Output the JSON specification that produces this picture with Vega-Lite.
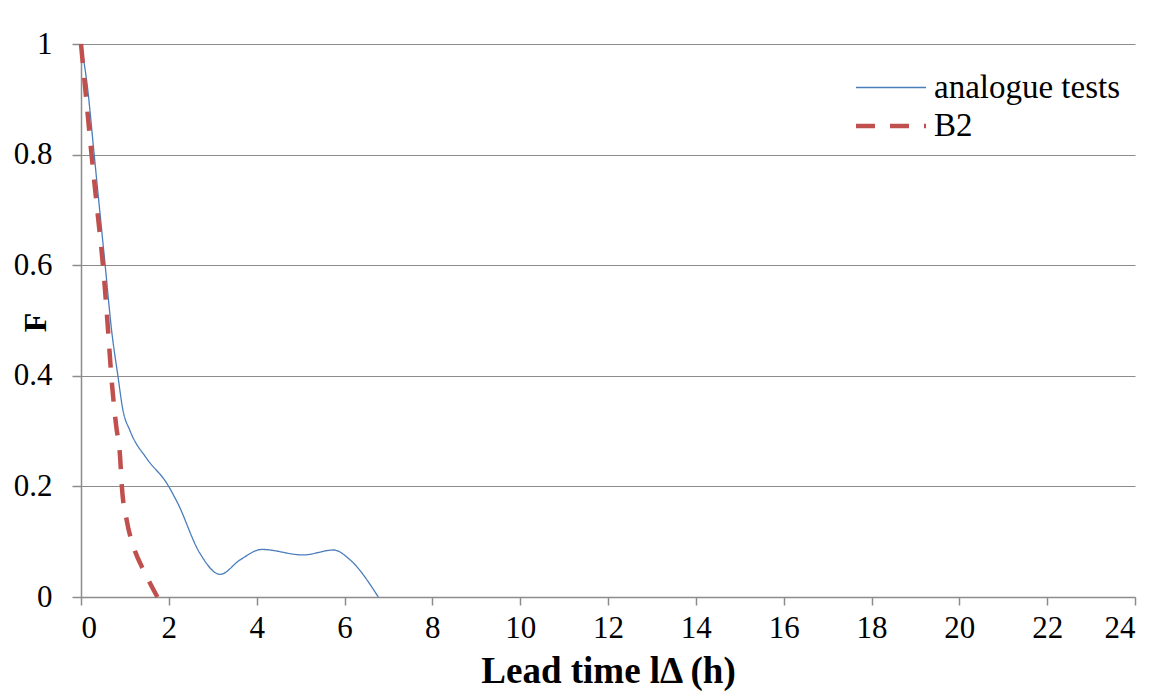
{
  "$schema": "https://vega.github.io/schema/vega-lite/v6.json",
  "width": 1054,
  "height": 553,
  "autosize": {"type": "none"},
  "padding": {"left": 81, "top": 44, "right": 29, "bottom": 100},
  "background": "white",
  "data": {
    "values": [
      {"t": 0, "F": 1.0, "s": "analogue tests"},
      {"t": 0.15, "F": 0.92, "s": "analogue tests"},
      {"t": 0.3, "F": 0.8, "s": "analogue tests"},
      {"t": 0.45, "F": 0.68, "s": "analogue tests"},
      {"t": 0.55, "F": 0.6, "s": "analogue tests"},
      {"t": 0.7, "F": 0.48, "s": "analogue tests"},
      {"t": 0.84, "F": 0.4, "s": "analogue tests"},
      {"t": 0.95, "F": 0.34, "s": "analogue tests"},
      {"t": 1.12, "F": 0.3, "s": "analogue tests"},
      {"t": 1.5, "F": 0.25, "s": "analogue tests"},
      {"t": 1.95, "F": 0.206, "s": "analogue tests"},
      {"t": 2.2, "F": 0.17, "s": "analogue tests"},
      {"t": 2.7, "F": 0.08, "s": "analogue tests"},
      {"t": 3.17, "F": 0.041, "s": "analogue tests"},
      {"t": 3.62, "F": 0.067, "s": "analogue tests"},
      {"t": 4.12, "F": 0.086, "s": "analogue tests"},
      {"t": 5.06, "F": 0.076, "s": "analogue tests"},
      {"t": 5.75, "F": 0.085, "s": "analogue tests"},
      {"t": 6.13, "F": 0.067, "s": "analogue tests"},
      {"t": 6.77, "F": 0.0, "s": "analogue tests"},
      {"t": 0, "F": 1.0, "s": "B2"},
      {"t": 0.12, "F": 0.9, "s": "B2"},
      {"t": 0.24, "F": 0.8, "s": "B2"},
      {"t": 0.37, "F": 0.7, "s": "B2"},
      {"t": 0.5, "F": 0.6, "s": "B2"},
      {"t": 0.6, "F": 0.5, "s": "B2"},
      {"t": 0.7, "F": 0.39, "s": "B2"},
      {"t": 0.8, "F": 0.31, "s": "B2"},
      {"t": 0.89, "F": 0.254, "s": "B2"},
      {"t": 0.93, "F": 0.2, "s": "B2"},
      {"t": 1.04, "F": 0.139, "s": "B2"},
      {"t": 1.2, "F": 0.09, "s": "B2"},
      {"t": 1.46, "F": 0.043, "s": "B2"},
      {"t": 1.74, "F": 0.0, "s": "B2"}
    ]
  },
  "mark": {"type": "line", "interpolate": "monotone"},
  "encoding": {
    "x": {
      "field": "t", "type": "quantitative",
      "scale": {"domain": [0, 24], "nice": false},
      "axis": {
        "values": [0, 2, 4, 6, 8, 10, 12, 14, 16, 18, 20, 22, 24],
        "grid": false,
        "title": "Lead time lΔ (h)",
        "titleFont": "Liberation Serif", "titleFontSize": 37, "titleFontWeight": "bold",
        "titleColor": "black", "titlePadding": 10,
        "labelFont": "Liberation Serif", "labelFontSize": 31, "labelColor": "black",
        "labelPadding": 8,
        "domainColor": "#8c8c8c", "tickColor": "#8c8c8c", "tickSize": 8,
        "domainWidth": 1.5, "tickWidth": 1.5
      }
    },
    "y": {
      "field": "F", "type": "quantitative",
      "scale": {"domain": [0, 1], "nice": false},
      "axis": {
        "values": [0, 0.2, 0.4, 0.6, 0.8, 1],
        "format": "~g",
        "grid": true, "gridColor": "#8c8c8c", "gridWidth": 1.2,
        "title": "F",
        "titleFont": "Liberation Serif", "titleFontSize": 32, "titleFontWeight": "bold",
        "titleColor": "black",
        "titleX": -46, "titleY": 278, "titleAlign": "center", "titleBaseline": "middle", "titleAngle": -90,
        "labelFont": "Liberation Serif", "labelFontSize": 31, "labelColor": "black",
        "labelPadding": 20,
        "domainColor": "#8c8c8c", "tickColor": "#8c8c8c", "tickSize": 9,
        "domainWidth": 1.5, "tickWidth": 1.5
      }
    },
    "color": {
      "field": "s", "type": "nominal", "title": null,
      "scale": {"domain": ["analogue tests", "B2"], "range": ["#4a7ebb", "#c0504d"]},
      "legend": {
        "orient": "none", "legendX": 790, "legendY": 25,
        "labelFont": "Liberation Serif", "labelFontSize": 33, "labelColor": "black",
        "labelLimit": 0,
        "symbolType": "M-2,0H2", "symbolSize": 1225, "labelOffset": 23,
        "rowPadding": 1
      }
    },
    "strokeDash": {
      "field": "s", "type": "nominal", "title": null,
      "scale": {"domain": ["analogue tests", "B2"], "range": [[1, 0], [19, 15]]}
    },
    "strokeWidth": {
      "field": "s", "type": "nominal", "title": null,
      "scale": {"domain": ["analogue tests", "B2"], "range": [1.3, 4.5]}
    }
  },
  "config": {
    "font": "Liberation Serif",
    "axis": {"labelFont": "Liberation Serif", "titleFont": "Liberation Serif"},
    "legend": {"labelFont": "Liberation Serif"},
    "view": {"stroke": null}
  }
}
